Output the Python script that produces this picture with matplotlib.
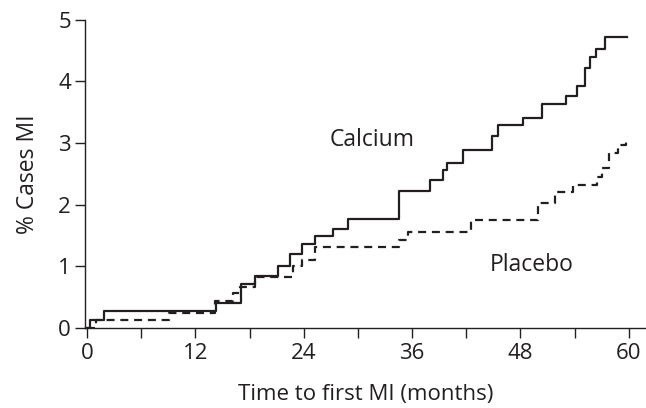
import matplotlib.pyplot as plt

# cumulative % of MI cases (step functions)
calcium_t = [0, 0.3, 1.9, 14.3, 17.0, 18.6, 21.1, 22.5, 23.8, 25.3, 27.2, 28.9,
             34.6, 38.0, 39.4, 39.9, 41.6, 44.9, 45.5, 48.3, 50.4, 53.0, 54.3,
             55.1, 55.7, 56.4, 57.4, 59.8]
calcium_v = [0, 0.13, 0.27, 0.40, 0.71, 0.84, 1.01, 1.20, 1.37, 1.50, 1.61, 1.77,
             2.23, 2.40, 2.56, 2.67, 2.89, 3.12, 3.30, 3.40, 3.64, 3.77, 3.93,
             4.22, 4.39, 4.53, 4.72, 4.72]

placebo_t = [0, 1.0, 9.1, 14.2, 16.2, 16.9, 18.6, 22.8, 23.8, 25.3, 34.6, 35.5,
             42.5, 49.9, 51.8, 53.8, 56.5, 57.0, 57.8, 58.8, 59.7]
placebo_v = [0, 0.13, 0.25, 0.44, 0.57, 0.67, 0.82, 1.00, 1.10, 1.32, 1.43, 1.55,
             1.75, 2.02, 2.20, 2.32, 2.45, 2.60, 2.84, 2.97, 3.07]

xticks_major = [0, 12, 24, 36, 48, 60]
xticks_minor = [6, 18, 30, 42, 54]
yticks = [0, 1, 2, 3, 4, 5]

ink = '#231f20'
plt.rcParams['font.family'] = ['Open Sans', 'DejaVu Sans']

fig = plt.figure(figsize=(6.46, 4.08), dpi=100)
ax = fig.add_axes([0.1316, 0.196, 0.8684, 0.7556])

ax.plot(calcium_t, calcium_v, drawstyle='steps-post', color=ink, lw=1.6)
ax.plot(placebo_t, placebo_v, drawstyle='steps-post', color=ink, lw=1.6,
        linestyle=(0, (3.6, 2.6)))

ax.text(26.9, 3.05, 'Calcium', fontsize=16.5, color=ink, va='center')
ax.text(44.6, 1.02, 'Placebo', fontsize=16.5, color=ink, va='center')

ax.set_xlim(-0.22, 61.9)
ax.set_ylim(0, 5)
ax.set_xticks(xticks_major)
ax.set_xticks(xticks_minor, minor=True)
ax.set_yticks(yticks)

for s in ['top', 'right']:
    ax.spines[s].set_visible(False)
for s in ['left', 'bottom']:
    ax.spines[s].set_color(ink)
    ax.spines[s].set_linewidth(1.0)

ax.tick_params(which='both', direction='out', length=7, width=1.0, color=ink,
               labelsize=16, labelcolor=ink, pad=4)
ax.tick_params(axis='y', pad=3)

ax.set_xlabel('Time to first MI (months)', fontsize=16, color=ink, labelpad=14)
ax.set_ylabel('% Cases MI', fontsize=16.5, color=ink, labelpad=13)

fig.savefig('out.png', dpi=100)
